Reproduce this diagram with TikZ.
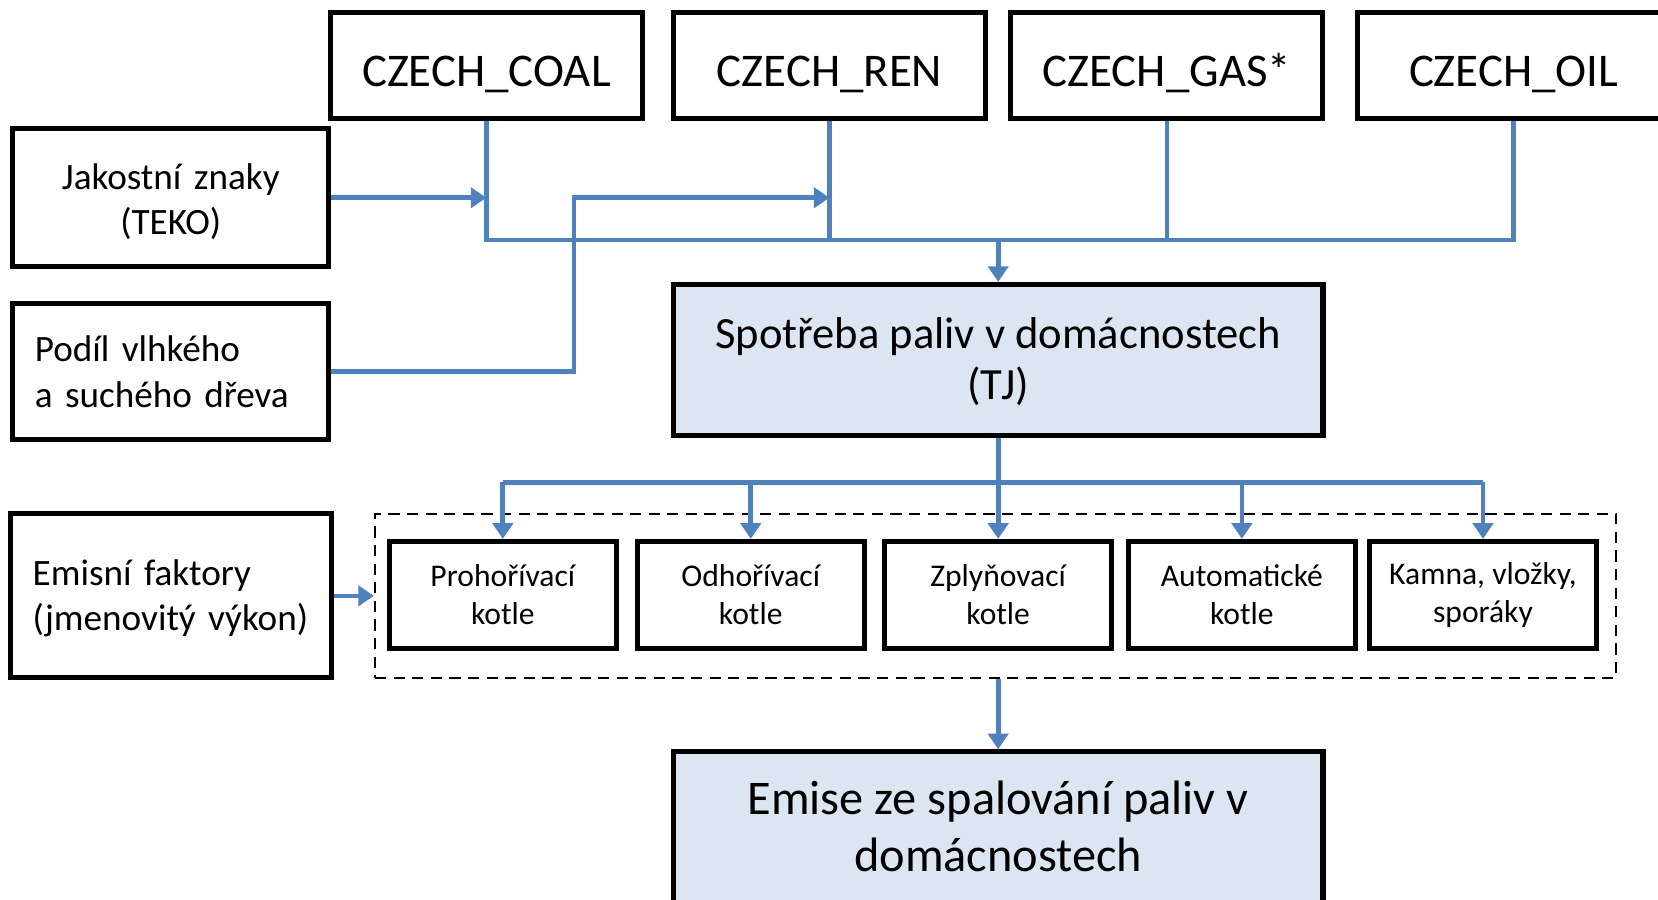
\documentclass[tikz,border=0pt]{standalone}
\usepackage{fontspec}
\setmainfont{Carlito}
\usetikzlibrary{arrows.meta,positioning}
\definecolor{flowblue}{HTML}{4F81BD}
\definecolor{mainfill}{HTML}{DCE6F2}

\begin{document}
\begin{tikzpicture}[x=0.01cm,y=-0.01cm,
		box/.style={draw,line width=1.35pt,inner sep=0pt},
		fuel/.style={box,minimum width=2.95cm,minimum height=1cm,text height=11.4pt,text depth=0pt,font=\fontsize{12.6}{14}\selectfont},
		input/.style={box,minimum height=1.3cm,text width=2.57cm,inner xsep=0.21cm,align=left,text height=8pt,text depth=13.3pt,font=\fontsize{10}{12.2}\selectfont},
		result/.style={box,fill=mainfill,minimum width=6.14cm,minimum height=1.43cm,align=center,text depth=0pt},
		boiler/.style={box,minimum width=2.15cm,minimum height=1.01cm,align=center,font=\fontsize{8.5}{10.2}\selectfont},
		flow/.style={flowblue,line width=1.25pt},
		flowarr/.style={flow,-{Triangle[length=4.2pt,width=5.4pt]}}
	]
		\useasboundingbox (0,0) rectangle (1568,851);

		% Fuel boxes
		\node[fuel] (coal) at (460,62) {CZECH\_COAL};
		\node[fuel] (ren) at (784.5,62) {CZECH\_REN};
		\node[fuel] (gas) at (1103.5,62) {CZECH\_GAS*};
		\node[fuel] (oil) at (1431.5,62) {CZECH\_OIL};

		% Input boxes
		\node[input,align=center,text depth=12.4pt] (teko) at (161.5,187) {Jakostní znaky\hspace*{0.2cm}\\(TEKO)};
		\node[input,minimum height=1.29cm] (wood) at (161.5,351.5) {Podíl vlhkého\\a suchého dřeva};
		\node[input,text width=2.61cm,minimum height=1.55cm,text depth=13.5pt] (ef) at (161.5,563.5) {Emisní faktory\\(jmenovitý výkon)};

		% Main boxes
		\node[result,text height=21pt,font=\fontsize{12}{13.7}\selectfont] (use) at (944,340.5) {Spotřeba paliv v domácnostech\\(TJ)};
		\node[result,text height=23.8pt,font=\fontsize{13}{15.25}\selectfont] (emis) at (944,782.5) {Emise ze spalování paliv v\\domácnostech};

		% Boiler types
		\node[draw,dash pattern=on 3pt off 2pt,line width=0.6pt,minimum width=11.73cm,minimum height=1.55cm] (group) at (941.5,563.5) {};
		\node[boiler] (b1) at (475.5,562.5) {Prohořívací\\kotle};
		\node[boiler] (b2) at (710,562.5) {Odhořívací\\kotle};
		\node[boiler] (b3) at (944,562.5) {Zplyňovací\\kotle};
		\node[boiler] (b4) at (1174.5,562.5) {Automatické\\kotle};
		\node[boiler] (b5) at (1402.5,562.5) {Kamna, vložky,\\sporáky};

		% Fuels to consumption
		\coordinate (bus) at (944,227);
		\draw[flow] (coal.south) |- (oil.south |- bus) -- (oil.south);
		\draw[flow] (ren.south) -- (ren.south |- bus);
		\draw[flow] (gas.south) -- (gas.south |- bus);
		\draw[flowarr] (bus) -- (use.north);

		% Inputs to fuels
		\coordinate (jog) at (543,187);
		\draw[flowarr] (teko.east) -- (teko.east -| coal.south);
		\draw[flowarr] (wood.east) -| (jog) -- (ren.south |- jog);

		% Consumption to boilers
		\coordinate (split) at (944,456);
		\draw[flow] (use.south) -- (split);
		\draw[flow] (b1.north |- split) -- (b5.north |- split);
		\foreach \b in {b1,b2,b3,b4,b5}
			\draw[flowarr] (\b.north |- split) -- (\b.north);

		% Emission factors and result
		\draw[flowarr] (ef.east) -- (group.west);
		\draw[flowarr] (group.south -| emis.north) -- (emis.north);
	\end{tikzpicture}
\end{document}
